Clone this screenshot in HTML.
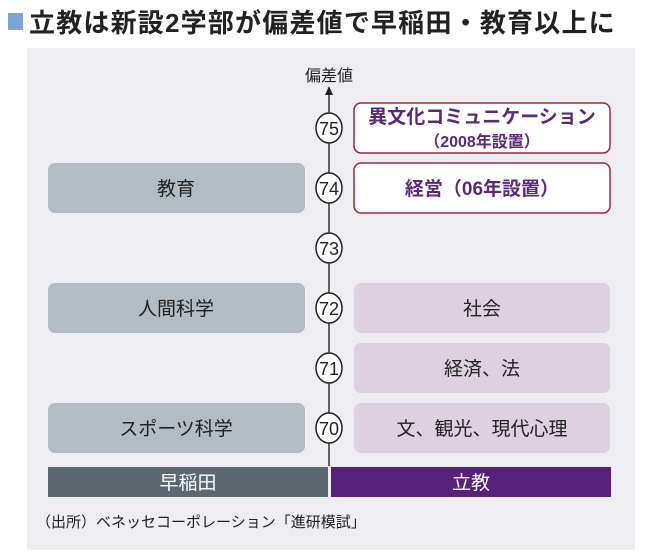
<!DOCTYPE html>
<html><head><meta charset="utf-8"><style>
body{margin:0;width:661px;height:554px;background:#fff;font-family:"Liberation Sans","Noto Sans CJK JP",sans-serif;overflow:hidden}
</style></head><body>
<svg width="661" height="554" id="s">
<rect x="8" y="13" width="15" height="17" fill="#7fa3d6"/>
<text x="29" y="32" font-size="26" font-weight="bold" letter-spacing="1.2" fill="#222">立教は新設2学部が偏差値で早稲田・教育以上に</text>
<rect x="27" y="48" width="608" height="502" fill="#eeedf2"/>
<line x1="329" y1="90" x2="329" y2="466" stroke="#333" stroke-width="1.5"/>
<polygon points="329,86 325,95 333,95" fill="#222"/>
<text x="329" y="81" font-size="16" text-anchor="middle" fill="#222">偏差値</text>
<g id="g"></g>
<rect x="48" y="467" width="280" height="30" fill="#5c6770"/>
<text x="188" y="489" font-size="19" text-anchor="middle" fill="#fff">早稲田</text>
<rect x="331" y="467" width="280" height="30" fill="#57217a"/>
<text x="471" y="489" font-size="19" text-anchor="middle" fill="#fff">立教</text>
<text x="36" y="527" font-size="15" fill="#222">（出所）ベネッセコーポレーション「進研模試」</text>
</svg>
<script>
const ticks=[75,74,73,72,71,70];
const wasedaNames=["教育","人間科学","スポーツ科学"];
const wasedaVals=[74,72,70];
const rikkyoNames=["異文化コミュニケーション","経営（06年設置）","社会","経済、法","文、観光、現代心理"];
const rikkyoSub=["（2008年設置）","","","",""];
const rikkyoVals=[75,74,72,71,70];
const rikkyoNew=[true,true,false,false,false];
const y=v=>128+(75-v)*60;
const g=document.getElementById('g'),NS="http://www.w3.org/2000/svg";
function mk(t,a,txt){const e=document.createElementNS(NS,t);for(const k in a)e.setAttribute(k,a[k]);if(txt)e.textContent=txt;g.appendChild(e);return e;}
wasedaVals.forEach((v,i)=>{
 const r=mk('rect',{x:48,y:y(v)-25,width:257,height:50,rx:7,fill:'#b3bcc2'});
 
 
 const t=mk('text',{x:176,y:y(v)+7,'font-size':19,'text-anchor':'middle',fill:'#222'},wasedaNames[i]);
 
 
});
rikkyoVals.forEach((v,i)=>{
 const n=rikkyoNew[i];
 const r=mk('rect',{x:354,y:y(v)-25,width:256,height:50,rx:7,fill:n?'#fff':'#ddd0df',stroke:n?'#a0263a':'none','stroke-width':1.5});
 
 
 const c=n?'#5a2a7a':'#222';
 const fw=n?'bold':'normal';
 if(rikkyoSub[i]){
  const t=mk('text',{x:482,y:y(v)-5,'font-size':19,'font-weight':fw,'text-anchor':'middle',fill:c},rikkyoNames[i]);
  
  
  const s=mk('text',{x:482,y:y(v)+19,'font-size':16,'font-weight':fw,'text-anchor':'middle',fill:c},rikkyoSub[i]);
  
  
 }else{
  const t=mk('text',{x:482,y:y(v)+7,'font-size':19,'font-weight':fw,'text-anchor':'middle',fill:c},rikkyoNames[i]);
  
  
 }
});
ticks.forEach(v=>{
 const c=mk('ellipse',{cx:329,cy:y(v),rx:13,ry:15,fill:'#fff',stroke:'#222','stroke-width':1.5});
 
 
 const t=mk('text',{x:329,y:y(v)+7,'font-size':18,'text-anchor':'middle',fill:'#222'},String(v));
 
 
});
</script>
</body></html>
